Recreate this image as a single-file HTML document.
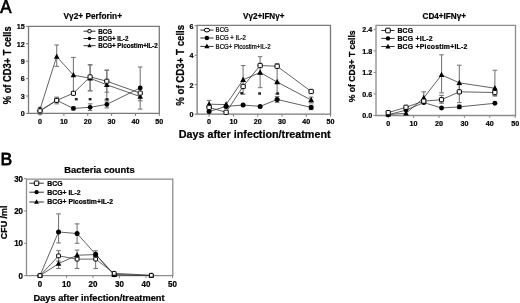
<!DOCTYPE html>
<html><head><meta charset="utf-8"><style>
html,body{margin:0;padding:0;background:#fff;}
text{stroke:#000;stroke-width:0.22px;}
body{width:520px;height:303px;overflow:hidden;font-family:"Liberation Sans", sans-serif;}
svg{display:block;filter:blur(0.3px);}
</style></head><body>
<svg width="520" height="303" viewBox="0 0 520 303" font-family='"Liberation Sans", sans-serif'>
<rect width="520" height="303" fill="#fff"/>
<text id="TA" transform="translate(0.20,12.60) scale(0.93,1)" font-size="18.2" font-weight="normal" text-anchor="start" fill="#000" style="stroke-width:0.7px">A</text>
<text id="TB" transform="translate(0.60,164.50) scale(1.04,1)" font-size="16.8" font-weight="normal" text-anchor="start" fill="#000" style="stroke-width:0.8px">B</text>
<text id="Tt1" transform="translate(63.60,19.20) scale(0.89,1)" font-size="9.3" font-weight="bold" text-anchor="start" fill="#000" >V&#947;2+ Perforin+</text>
<text id="Tt2" transform="translate(243.10,19.30) scale(0.87,1)" font-size="9.3" font-weight="bold" text-anchor="start" fill="#000" >V&#947;2+IFN&#947;+</text>
<text id="Tt3" transform="translate(422.50,18.80) scale(0.95,1)" font-size="8.6" font-weight="bold" text-anchor="start" fill="#000" >CD4+IFN&#947;+</text>
<text id="Tt4" transform="translate(64.30,172.70) scale(1.02,1)" font-size="9.2" font-weight="bold" text-anchor="start" fill="#000" >Bacteria counts</text>
<text id="Ty1" transform="translate(11.20,65.30) rotate(-90) scale(1,1.1)" font-size="9.3" font-weight="bold" text-anchor="middle">% of CD3+ T cells</text>
<text id="Ty2" transform="translate(184.10,65.30) rotate(-90) scale(1,1.12)" font-size="9.7" font-weight="bold" text-anchor="middle">% of CD3+ T cells</text>
<text id="Ty3" transform="translate(354.80,66.30) rotate(-90) scale(1,1.08)" font-size="8.6" font-weight="bold" text-anchor="middle">% of CD3+ T cells</text>
<text id="Ty4" transform="translate(6.90,222.40) rotate(-90) scale(1,1.05)" font-size="8.9" font-weight="bold" text-anchor="middle">CFU /ml</text>
<text id="Tx1" x="178.80" y="137.90" font-size="10.75" font-weight="bold" text-anchor="start" fill="#000" >Days after infection/treatment</text>
<text id="Tx2" x="33.40" y="300.50" font-size="9.3" font-weight="bold" text-anchor="start" fill="#000" >Days after infection/treatment</text>
<path d="M28.50,113.40 V26.30 H159.30 V113.40 Z" fill="none" stroke="#7a7a7a" stroke-width="1.3"/>
<line x1="26.00" y1="113.40" x2="28.50" y2="113.40" stroke="#7a7a7a" stroke-width="1"/>
<text transform="translate(24.80,116.21) scale(0.92,1)" font-size="7.8" font-weight="bold" text-anchor="end" fill="#000" >0</text>
<line x1="26.00" y1="96.00" x2="28.50" y2="96.00" stroke="#7a7a7a" stroke-width="1"/>
<text transform="translate(24.80,98.81) scale(0.92,1)" font-size="7.8" font-weight="bold" text-anchor="end" fill="#000" >3</text>
<line x1="26.00" y1="78.60" x2="28.50" y2="78.60" stroke="#7a7a7a" stroke-width="1"/>
<text transform="translate(24.80,81.41) scale(0.92,1)" font-size="7.8" font-weight="bold" text-anchor="end" fill="#000" >6</text>
<line x1="26.00" y1="61.20" x2="28.50" y2="61.20" stroke="#7a7a7a" stroke-width="1"/>
<text transform="translate(24.80,64.01) scale(0.92,1)" font-size="7.8" font-weight="bold" text-anchor="end" fill="#000" >9</text>
<line x1="26.00" y1="43.80" x2="28.50" y2="43.80" stroke="#7a7a7a" stroke-width="1"/>
<text transform="translate(24.80,46.61) scale(0.92,1)" font-size="7.8" font-weight="bold" text-anchor="end" fill="#000" >12</text>
<line x1="26.00" y1="26.40" x2="28.50" y2="26.40" stroke="#7a7a7a" stroke-width="1"/>
<text transform="translate(24.80,29.21) scale(0.92,1)" font-size="7.8" font-weight="bold" text-anchor="end" fill="#000" >15</text>
<line x1="40.00" y1="113.40" x2="40.00" y2="115.90" stroke="#7a7a7a" stroke-width="1"/>
<text transform="translate(40.00,123.70) scale(0.92,1)" font-size="7.8" font-weight="bold" text-anchor="middle" fill="#000" >0</text>
<line x1="63.86" y1="113.40" x2="63.86" y2="115.90" stroke="#7a7a7a" stroke-width="1"/>
<text transform="translate(63.86,123.70) scale(0.92,1)" font-size="7.8" font-weight="bold" text-anchor="middle" fill="#000" >10</text>
<line x1="87.72" y1="113.40" x2="87.72" y2="115.90" stroke="#7a7a7a" stroke-width="1"/>
<text transform="translate(87.72,123.70) scale(0.92,1)" font-size="7.8" font-weight="bold" text-anchor="middle" fill="#000" >20</text>
<line x1="111.58" y1="113.40" x2="111.58" y2="115.90" stroke="#7a7a7a" stroke-width="1"/>
<text transform="translate(111.58,123.70) scale(0.92,1)" font-size="7.8" font-weight="bold" text-anchor="middle" fill="#000" >30</text>
<line x1="135.44" y1="113.40" x2="135.44" y2="115.90" stroke="#7a7a7a" stroke-width="1"/>
<text transform="translate(135.44,123.70) scale(0.92,1)" font-size="7.8" font-weight="bold" text-anchor="middle" fill="#000" >40</text>
<line x1="159.30" y1="113.40" x2="159.30" y2="115.90" stroke="#7a7a7a" stroke-width="1"/>
<text transform="translate(159.30,123.70) scale(0.92,1)" font-size="7.8" font-weight="bold" text-anchor="middle" fill="#000" >50</text>
<polyline points="40.00,109.34 56.70,56.56 73.40,75.12 90.11,78.31 106.81,84.81 140.21,96.58" fill="none" stroke="#3a3a3a" stroke-width="0.8"/>
<polyline points="40.00,110.79 56.70,100.35 73.40,108.41 90.11,107.31 106.81,104.41 140.21,87.88" fill="none" stroke="#3a3a3a" stroke-width="0.8"/>
<polyline points="40.00,110.79 56.70,100.35 73.40,93.27 90.11,76.86 106.81,81.21 140.21,93.10" fill="none" stroke="#3a3a3a" stroke-width="0.8"/>
<line x1="56.70" y1="56.56" x2="56.70" y2="44.96" stroke="#7a7a7a" stroke-width="1.1"/>
<line x1="54.40" y1="44.96" x2="59.00" y2="44.96" stroke="#7a7a7a" stroke-width="1.1"/>
<line x1="56.70" y1="56.56" x2="56.70" y2="66.42" stroke="#7a7a7a" stroke-width="1.1"/>
<line x1="54.40" y1="66.42" x2="59.00" y2="66.42" stroke="#7a7a7a" stroke-width="1.1"/>
<line x1="73.40" y1="75.12" x2="73.40" y2="57.43" stroke="#7a7a7a" stroke-width="1.1"/>
<line x1="71.10" y1="57.43" x2="75.70" y2="57.43" stroke="#7a7a7a" stroke-width="1.1"/>
<line x1="73.40" y1="75.12" x2="73.40" y2="93.10" stroke="#7a7a7a" stroke-width="1.1"/>
<line x1="71.10" y1="93.10" x2="75.70" y2="93.10" stroke="#7a7a7a" stroke-width="1.1"/>
<line x1="90.11" y1="78.31" x2="90.11" y2="64.97" stroke="#7a7a7a" stroke-width="1.1"/>
<line x1="87.81" y1="64.97" x2="92.41" y2="64.97" stroke="#7a7a7a" stroke-width="1.1"/>
<line x1="90.11" y1="78.31" x2="90.11" y2="90.78" stroke="#7a7a7a" stroke-width="1.1"/>
<line x1="87.81" y1="90.78" x2="92.41" y2="90.78" stroke="#7a7a7a" stroke-width="1.1"/>
<line x1="106.81" y1="84.81" x2="106.81" y2="70.19" stroke="#7a7a7a" stroke-width="1.1"/>
<line x1="104.51" y1="70.19" x2="109.11" y2="70.19" stroke="#7a7a7a" stroke-width="1.1"/>
<line x1="106.81" y1="84.81" x2="106.81" y2="99.31" stroke="#7a7a7a" stroke-width="1.1"/>
<line x1="104.51" y1="99.31" x2="109.11" y2="99.31" stroke="#7a7a7a" stroke-width="1.1"/>
<line x1="140.21" y1="96.58" x2="140.21" y2="109.11" stroke="#7a7a7a" stroke-width="1.1"/>
<line x1="137.91" y1="109.11" x2="142.51" y2="109.11" stroke="#7a7a7a" stroke-width="1.1"/>
<line x1="73.40" y1="108.41" x2="73.40" y2="106.96" stroke="#7a7a7a" stroke-width="1.1"/>
<line x1="71.10" y1="106.96" x2="75.70" y2="106.96" stroke="#7a7a7a" stroke-width="1.1"/>
<line x1="73.40" y1="108.41" x2="73.40" y2="109.86" stroke="#7a7a7a" stroke-width="1.1"/>
<line x1="71.10" y1="109.86" x2="75.70" y2="109.86" stroke="#7a7a7a" stroke-width="1.1"/>
<line x1="90.11" y1="107.31" x2="90.11" y2="103.83" stroke="#7a7a7a" stroke-width="1.1"/>
<line x1="87.81" y1="103.83" x2="92.41" y2="103.83" stroke="#7a7a7a" stroke-width="1.1"/>
<line x1="90.11" y1="107.31" x2="90.11" y2="110.50" stroke="#7a7a7a" stroke-width="1.1"/>
<line x1="87.81" y1="110.50" x2="92.41" y2="110.50" stroke="#7a7a7a" stroke-width="1.1"/>
<line x1="106.81" y1="104.41" x2="106.81" y2="100.93" stroke="#7a7a7a" stroke-width="1.1"/>
<line x1="104.51" y1="100.93" x2="109.11" y2="100.93" stroke="#7a7a7a" stroke-width="1.1"/>
<line x1="106.81" y1="104.41" x2="106.81" y2="107.89" stroke="#7a7a7a" stroke-width="1.1"/>
<line x1="104.51" y1="107.89" x2="109.11" y2="107.89" stroke="#7a7a7a" stroke-width="1.1"/>
<line x1="140.21" y1="87.88" x2="140.21" y2="67.00" stroke="#7a7a7a" stroke-width="1.1"/>
<line x1="137.91" y1="67.00" x2="142.51" y2="67.00" stroke="#7a7a7a" stroke-width="1.1"/>
<line x1="140.21" y1="87.88" x2="140.21" y2="100.81" stroke="#7a7a7a" stroke-width="1.1"/>
<line x1="137.91" y1="100.81" x2="142.51" y2="100.81" stroke="#7a7a7a" stroke-width="1.1"/>
<line x1="40.00" y1="110.79" x2="40.00" y2="107.31" stroke="#7a7a7a" stroke-width="1.1"/>
<line x1="37.70" y1="107.31" x2="42.30" y2="107.31" stroke="#7a7a7a" stroke-width="1.1"/>
<line x1="40.00" y1="110.79" x2="40.00" y2="114.27" stroke="#7a7a7a" stroke-width="1.1"/>
<line x1="37.70" y1="114.27" x2="42.30" y2="114.27" stroke="#7a7a7a" stroke-width="1.1"/>
<line x1="56.70" y1="100.35" x2="56.70" y2="97.16" stroke="#7a7a7a" stroke-width="1.1"/>
<line x1="54.40" y1="97.16" x2="59.00" y2="97.16" stroke="#7a7a7a" stroke-width="1.1"/>
<line x1="56.70" y1="100.35" x2="56.70" y2="103.83" stroke="#7a7a7a" stroke-width="1.1"/>
<line x1="54.40" y1="103.83" x2="59.00" y2="103.83" stroke="#7a7a7a" stroke-width="1.1"/>
<line x1="90.11" y1="76.86" x2="90.11" y2="64.68" stroke="#7a7a7a" stroke-width="1.1"/>
<line x1="87.81" y1="64.68" x2="92.41" y2="64.68" stroke="#7a7a7a" stroke-width="1.1"/>
<line x1="90.11" y1="76.86" x2="90.11" y2="90.78" stroke="#7a7a7a" stroke-width="1.1"/>
<line x1="87.81" y1="90.78" x2="92.41" y2="90.78" stroke="#7a7a7a" stroke-width="1.1"/>
<line x1="106.81" y1="81.21" x2="106.81" y2="70.19" stroke="#7a7a7a" stroke-width="1.1"/>
<line x1="104.51" y1="70.19" x2="109.11" y2="70.19" stroke="#7a7a7a" stroke-width="1.1"/>
<line x1="106.81" y1="81.21" x2="106.81" y2="92.23" stroke="#7a7a7a" stroke-width="1.1"/>
<line x1="104.51" y1="92.23" x2="109.11" y2="92.23" stroke="#7a7a7a" stroke-width="1.1"/>
<polygon points="40.00,106.22 42.76,111.46 37.24,111.46" fill="#000"/>
<polygon points="56.70,53.44 59.46,58.68 53.94,58.68" fill="#000"/>
<polygon points="73.40,72.00 76.16,77.24 70.64,77.24" fill="#000"/>
<polygon points="90.11,75.19 92.87,80.43 87.35,80.43" fill="#000"/>
<polygon points="106.81,81.68 109.57,86.92 104.05,86.92" fill="#000"/>
<polygon points="140.21,93.46 142.97,98.70 137.45,98.70" fill="#000"/>
<circle cx="40.00" cy="110.79" r="2.40" fill="#000"/>
<circle cx="56.70" cy="100.35" r="2.40" fill="#000"/>
<circle cx="73.40" cy="108.41" r="2.40" fill="#000"/>
<circle cx="90.11" cy="107.31" r="2.40" fill="#000"/>
<circle cx="106.81" cy="104.41" r="2.40" fill="#000"/>
<circle cx="140.21" cy="87.88" r="2.40" fill="#000"/>
<rect x="37.94" y="108.73" width="4.13" height="4.13" rx="0.5" fill="#fff" stroke="#000" stroke-width="1"/>
<rect x="54.64" y="98.29" width="4.13" height="4.13" rx="0.5" fill="#fff" stroke="#000" stroke-width="1"/>
<rect x="71.34" y="91.21" width="4.13" height="4.13" rx="0.5" fill="#fff" stroke="#000" stroke-width="1"/>
<rect x="88.04" y="74.80" width="4.13" height="4.13" rx="0.5" fill="#fff" stroke="#000" stroke-width="1"/>
<rect x="104.74" y="79.15" width="4.13" height="4.13" rx="0.5" fill="#fff" stroke="#000" stroke-width="1"/>
<rect x="138.15" y="91.04" width="4.13" height="4.13" rx="0.5" fill="#fff" stroke="#000" stroke-width="1"/>
<rect x="74.90" y="98.00" width="2.8" height="2.4" fill="#222"/>
<rect x="88.70" y="98.00" width="2.8" height="2.4" fill="#222"/>
<rect x="105.60" y="98.10" width="2.8" height="2.4" fill="#222"/>
<path d="M197.10,114.20 V25.40 H330.50 V114.20 Z" fill="none" stroke="#7a7a7a" stroke-width="1.3"/>
<line x1="194.60" y1="114.20" x2="197.10" y2="114.20" stroke="#7a7a7a" stroke-width="1"/>
<text transform="translate(193.60,117.01) scale(0.92,1)" font-size="7.8" font-weight="bold" text-anchor="end" fill="#000" >0</text>
<line x1="194.60" y1="84.70" x2="197.10" y2="84.70" stroke="#7a7a7a" stroke-width="1"/>
<text transform="translate(193.60,87.51) scale(0.92,1)" font-size="7.8" font-weight="bold" text-anchor="end" fill="#000" >2</text>
<line x1="194.60" y1="55.20" x2="197.10" y2="55.20" stroke="#7a7a7a" stroke-width="1"/>
<text transform="translate(193.60,58.01) scale(0.92,1)" font-size="7.8" font-weight="bold" text-anchor="end" fill="#000" >4</text>
<line x1="194.60" y1="25.70" x2="197.10" y2="25.70" stroke="#7a7a7a" stroke-width="1"/>
<text transform="translate(193.60,28.51) scale(0.92,1)" font-size="7.8" font-weight="bold" text-anchor="end" fill="#000" >6</text>
<line x1="209.10" y1="114.20" x2="209.10" y2="116.70" stroke="#7a7a7a" stroke-width="1"/>
<text transform="translate(209.10,123.90) scale(0.92,1)" font-size="7.8" font-weight="bold" text-anchor="middle" fill="#000" >0</text>
<line x1="233.40" y1="114.20" x2="233.40" y2="116.70" stroke="#7a7a7a" stroke-width="1"/>
<text transform="translate(233.40,123.90) scale(0.92,1)" font-size="7.8" font-weight="bold" text-anchor="middle" fill="#000" >10</text>
<line x1="257.70" y1="114.20" x2="257.70" y2="116.70" stroke="#7a7a7a" stroke-width="1"/>
<text transform="translate(257.70,123.90) scale(0.92,1)" font-size="7.8" font-weight="bold" text-anchor="middle" fill="#000" >20</text>
<line x1="282.00" y1="114.20" x2="282.00" y2="116.70" stroke="#7a7a7a" stroke-width="1"/>
<text transform="translate(282.00,123.90) scale(0.92,1)" font-size="7.8" font-weight="bold" text-anchor="middle" fill="#000" >30</text>
<line x1="306.30" y1="114.20" x2="306.30" y2="116.70" stroke="#7a7a7a" stroke-width="1"/>
<text transform="translate(306.30,123.90) scale(0.92,1)" font-size="7.8" font-weight="bold" text-anchor="middle" fill="#000" >40</text>
<line x1="330.60" y1="114.20" x2="330.60" y2="116.70" stroke="#7a7a7a" stroke-width="1"/>
<text transform="translate(330.60,123.90) scale(0.92,1)" font-size="7.8" font-weight="bold" text-anchor="middle" fill="#000" >50</text>
<polyline points="209.10,104.17 226.11,104.61 243.12,79.83 260.13,72.46 277.14,82.05 311.16,100.04" fill="none" stroke="#3a3a3a" stroke-width="0.8"/>
<polyline points="209.10,111.55 226.11,106.38 243.12,105.06 260.13,106.38 277.14,99.45 311.16,107.42" fill="none" stroke="#3a3a3a" stroke-width="0.8"/>
<polyline points="209.10,107.42 226.11,112.28 243.12,86.47 260.13,65.53 277.14,66.26 311.16,91.48" fill="none" stroke="#3a3a3a" stroke-width="0.8"/>
<line x1="209.10" y1="104.17" x2="209.10" y2="100.48" stroke="#7a7a7a" stroke-width="1.1"/>
<line x1="206.80" y1="100.48" x2="211.40" y2="100.48" stroke="#7a7a7a" stroke-width="1.1"/>
<line x1="209.10" y1="104.17" x2="209.10" y2="107.86" stroke="#7a7a7a" stroke-width="1.1"/>
<line x1="206.80" y1="107.86" x2="211.40" y2="107.86" stroke="#7a7a7a" stroke-width="1.1"/>
<line x1="243.12" y1="79.83" x2="243.12" y2="65.53" stroke="#7a7a7a" stroke-width="1.1"/>
<line x1="240.82" y1="65.53" x2="245.42" y2="65.53" stroke="#7a7a7a" stroke-width="1.1"/>
<line x1="243.12" y1="79.83" x2="243.12" y2="94.14" stroke="#7a7a7a" stroke-width="1.1"/>
<line x1="240.82" y1="94.14" x2="245.42" y2="94.14" stroke="#7a7a7a" stroke-width="1.1"/>
<line x1="260.13" y1="72.46" x2="260.13" y2="87.65" stroke="#7a7a7a" stroke-width="1.1"/>
<line x1="257.83" y1="87.65" x2="262.43" y2="87.65" stroke="#7a7a7a" stroke-width="1.1"/>
<line x1="277.14" y1="82.05" x2="277.14" y2="93.99" stroke="#7a7a7a" stroke-width="1.1"/>
<line x1="274.84" y1="93.99" x2="279.44" y2="93.99" stroke="#7a7a7a" stroke-width="1.1"/>
<line x1="311.16" y1="100.04" x2="311.16" y2="97.09" stroke="#7a7a7a" stroke-width="1.1"/>
<line x1="308.86" y1="97.09" x2="313.46" y2="97.09" stroke="#7a7a7a" stroke-width="1.1"/>
<line x1="311.16" y1="100.04" x2="311.16" y2="102.99" stroke="#7a7a7a" stroke-width="1.1"/>
<line x1="308.86" y1="102.99" x2="313.46" y2="102.99" stroke="#7a7a7a" stroke-width="1.1"/>
<line x1="277.14" y1="99.45" x2="277.14" y2="96.50" stroke="#7a7a7a" stroke-width="1.1"/>
<line x1="274.84" y1="96.50" x2="279.44" y2="96.50" stroke="#7a7a7a" stroke-width="1.1"/>
<line x1="277.14" y1="99.45" x2="277.14" y2="102.40" stroke="#7a7a7a" stroke-width="1.1"/>
<line x1="274.84" y1="102.40" x2="279.44" y2="102.40" stroke="#7a7a7a" stroke-width="1.1"/>
<line x1="311.16" y1="107.42" x2="311.16" y2="105.20" stroke="#7a7a7a" stroke-width="1.1"/>
<line x1="308.86" y1="105.20" x2="313.46" y2="105.20" stroke="#7a7a7a" stroke-width="1.1"/>
<line x1="311.16" y1="107.42" x2="311.16" y2="109.63" stroke="#7a7a7a" stroke-width="1.1"/>
<line x1="308.86" y1="109.63" x2="313.46" y2="109.63" stroke="#7a7a7a" stroke-width="1.1"/>
<line x1="260.13" y1="65.53" x2="260.13" y2="56.68" stroke="#7a7a7a" stroke-width="1.1"/>
<line x1="257.83" y1="56.68" x2="262.43" y2="56.68" stroke="#7a7a7a" stroke-width="1.1"/>
<line x1="260.13" y1="65.53" x2="260.13" y2="74.38" stroke="#7a7a7a" stroke-width="1.1"/>
<line x1="257.83" y1="74.38" x2="262.43" y2="74.38" stroke="#7a7a7a" stroke-width="1.1"/>
<line x1="277.14" y1="66.26" x2="277.14" y2="63.76" stroke="#7a7a7a" stroke-width="1.1"/>
<line x1="274.84" y1="63.76" x2="279.44" y2="63.76" stroke="#7a7a7a" stroke-width="1.1"/>
<line x1="277.14" y1="66.26" x2="277.14" y2="82.05" stroke="#7a7a7a" stroke-width="1.1"/>
<line x1="274.84" y1="82.05" x2="279.44" y2="82.05" stroke="#7a7a7a" stroke-width="1.1"/>
<polygon points="209.10,100.92 211.97,106.38 206.22,106.38" fill="#000"/>
<polygon points="226.11,101.36 228.98,106.82 223.23,106.82" fill="#000"/>
<polygon points="243.12,76.58 246.00,82.04 240.25,82.04" fill="#000"/>
<polygon points="260.13,69.20 263.00,74.66 257.25,74.66" fill="#000"/>
<polygon points="277.14,78.79 280.01,84.25 274.26,84.25" fill="#000"/>
<polygon points="311.16,96.79 314.03,102.25 308.28,102.25" fill="#000"/>
<circle cx="209.10" cy="111.55" r="2.50" fill="#000"/>
<circle cx="226.11" cy="106.38" r="2.50" fill="#000"/>
<circle cx="243.12" cy="105.06" r="2.50" fill="#000"/>
<circle cx="260.13" cy="106.38" r="2.50" fill="#000"/>
<circle cx="277.14" cy="99.45" r="2.50" fill="#000"/>
<circle cx="311.16" cy="107.42" r="2.50" fill="#000"/>
<rect x="206.95" y="105.27" width="4.30" height="4.30" rx="0.5" fill="#fff" stroke="#000" stroke-width="1"/>
<rect x="223.96" y="110.13" width="4.30" height="4.30" rx="0.5" fill="#fff" stroke="#000" stroke-width="1"/>
<rect x="240.97" y="84.32" width="4.30" height="4.30" rx="0.5" fill="#fff" stroke="#000" stroke-width="1"/>
<rect x="257.98" y="63.38" width="4.30" height="4.30" rx="0.5" fill="#fff" stroke="#000" stroke-width="1"/>
<rect x="274.99" y="64.11" width="4.30" height="4.30" rx="0.5" fill="#fff" stroke="#000" stroke-width="1"/>
<rect x="309.01" y="89.33" width="4.30" height="4.30" rx="0.5" fill="#fff" stroke="#000" stroke-width="1"/>
<rect x="240.30" y="92.00" width="2.8" height="2.4" fill="#222"/>
<rect x="258.20" y="92.30" width="2.8" height="2.4" fill="#222"/>
<rect x="276.20" y="92.30" width="2.8" height="2.4" fill="#222"/>
<path d="M376.00,115.50 V25.30 H515.50 V115.50 Z" fill="none" stroke="#8c8c8c" stroke-width="1.3"/>
<line x1="373.50" y1="115.50" x2="376.00" y2="115.50" stroke="#8c8c8c" stroke-width="1"/>
<text transform="translate(372.20,118.31) scale(0.92,1)" font-size="7.8" font-weight="bold" text-anchor="end" fill="#000" >0.0</text>
<line x1="373.50" y1="93.96" x2="376.00" y2="93.96" stroke="#8c8c8c" stroke-width="1"/>
<text transform="translate(372.20,96.77) scale(0.92,1)" font-size="7.8" font-weight="bold" text-anchor="end" fill="#000" >0.6</text>
<line x1="373.50" y1="72.42" x2="376.00" y2="72.42" stroke="#8c8c8c" stroke-width="1"/>
<text transform="translate(372.20,75.23) scale(0.92,1)" font-size="7.8" font-weight="bold" text-anchor="end" fill="#000" >1.2</text>
<line x1="373.50" y1="50.88" x2="376.00" y2="50.88" stroke="#8c8c8c" stroke-width="1"/>
<text transform="translate(372.20,53.69) scale(0.92,1)" font-size="7.8" font-weight="bold" text-anchor="end" fill="#000" >1.8</text>
<line x1="373.50" y1="29.34" x2="376.00" y2="29.34" stroke="#8c8c8c" stroke-width="1"/>
<text transform="translate(372.20,32.15) scale(0.92,1)" font-size="7.8" font-weight="bold" text-anchor="end" fill="#000" >2.4</text>
<line x1="388.20" y1="115.50" x2="388.20" y2="118.00" stroke="#8c8c8c" stroke-width="1"/>
<text transform="translate(388.20,126.00) scale(0.92,1)" font-size="7.8" font-weight="bold" text-anchor="middle" fill="#000" >0</text>
<line x1="413.60" y1="115.50" x2="413.60" y2="118.00" stroke="#8c8c8c" stroke-width="1"/>
<text transform="translate(413.60,126.00) scale(0.92,1)" font-size="7.8" font-weight="bold" text-anchor="middle" fill="#000" >10</text>
<line x1="439.00" y1="115.50" x2="439.00" y2="118.00" stroke="#8c8c8c" stroke-width="1"/>
<text transform="translate(439.00,126.00) scale(0.92,1)" font-size="7.8" font-weight="bold" text-anchor="middle" fill="#000" >20</text>
<line x1="464.40" y1="115.50" x2="464.40" y2="118.00" stroke="#8c8c8c" stroke-width="1"/>
<text transform="translate(464.40,126.00) scale(0.92,1)" font-size="7.8" font-weight="bold" text-anchor="middle" fill="#000" >30</text>
<line x1="489.80" y1="115.50" x2="489.80" y2="118.00" stroke="#8c8c8c" stroke-width="1"/>
<text transform="translate(489.80,126.00) scale(0.92,1)" font-size="7.8" font-weight="bold" text-anchor="middle" fill="#000" >40</text>
<line x1="515.20" y1="115.50" x2="515.20" y2="118.00" stroke="#8c8c8c" stroke-width="1"/>
<text transform="translate(515.20,126.00) scale(0.92,1)" font-size="7.8" font-weight="bold" text-anchor="middle" fill="#000" >50</text>
<polyline points="388.20,114.42 405.98,113.35 423.76,97.91 441.54,74.93 459.32,82.83 494.88,88.22" fill="none" stroke="#3a3a3a" stroke-width="0.8"/>
<polyline points="388.20,114.78 405.98,110.11 423.76,102.58 441.54,107.96 459.32,106.88 494.88,103.29" fill="none" stroke="#3a3a3a" stroke-width="0.8"/>
<polyline points="388.20,112.63 405.98,107.24 423.76,101.14 441.54,99.70 459.32,91.81 494.88,92.52" fill="none" stroke="#3a3a3a" stroke-width="0.8"/>
<line x1="423.76" y1="97.91" x2="423.76" y2="91.81" stroke="#7a7a7a" stroke-width="1.1"/>
<line x1="421.46" y1="91.81" x2="426.06" y2="91.81" stroke="#7a7a7a" stroke-width="1.1"/>
<line x1="423.76" y1="97.91" x2="423.76" y2="104.01" stroke="#7a7a7a" stroke-width="1.1"/>
<line x1="421.46" y1="104.01" x2="426.06" y2="104.01" stroke="#7a7a7a" stroke-width="1.1"/>
<line x1="441.54" y1="74.93" x2="441.54" y2="54.83" stroke="#7a7a7a" stroke-width="1.1"/>
<line x1="439.24" y1="54.83" x2="443.84" y2="54.83" stroke="#7a7a7a" stroke-width="1.1"/>
<line x1="441.54" y1="74.93" x2="441.54" y2="92.88" stroke="#7a7a7a" stroke-width="1.1"/>
<line x1="439.24" y1="92.88" x2="443.84" y2="92.88" stroke="#7a7a7a" stroke-width="1.1"/>
<line x1="459.32" y1="82.83" x2="459.32" y2="65.24" stroke="#7a7a7a" stroke-width="1.1"/>
<line x1="457.02" y1="65.24" x2="461.62" y2="65.24" stroke="#7a7a7a" stroke-width="1.1"/>
<line x1="459.32" y1="82.83" x2="459.32" y2="93.60" stroke="#7a7a7a" stroke-width="1.1"/>
<line x1="457.02" y1="93.60" x2="461.62" y2="93.60" stroke="#7a7a7a" stroke-width="1.1"/>
<line x1="494.88" y1="88.22" x2="494.88" y2="70.27" stroke="#7a7a7a" stroke-width="1.1"/>
<line x1="492.58" y1="70.27" x2="497.18" y2="70.27" stroke="#7a7a7a" stroke-width="1.1"/>
<line x1="494.88" y1="88.22" x2="494.88" y2="95.40" stroke="#7a7a7a" stroke-width="1.1"/>
<line x1="492.58" y1="95.40" x2="497.18" y2="95.40" stroke="#7a7a7a" stroke-width="1.1"/>
<line x1="459.32" y1="106.88" x2="459.32" y2="105.09" stroke="#7a7a7a" stroke-width="1.1"/>
<line x1="457.02" y1="105.09" x2="461.62" y2="105.09" stroke="#7a7a7a" stroke-width="1.1"/>
<line x1="459.32" y1="106.88" x2="459.32" y2="108.68" stroke="#7a7a7a" stroke-width="1.1"/>
<line x1="457.02" y1="108.68" x2="461.62" y2="108.68" stroke="#7a7a7a" stroke-width="1.1"/>
<line x1="441.54" y1="99.70" x2="441.54" y2="95.40" stroke="#7a7a7a" stroke-width="1.1"/>
<line x1="439.24" y1="95.40" x2="443.84" y2="95.40" stroke="#7a7a7a" stroke-width="1.1"/>
<line x1="441.54" y1="99.70" x2="441.54" y2="103.29" stroke="#7a7a7a" stroke-width="1.1"/>
<line x1="439.24" y1="103.29" x2="443.84" y2="103.29" stroke="#7a7a7a" stroke-width="1.1"/>
<line x1="459.32" y1="91.81" x2="459.32" y2="84.63" stroke="#7a7a7a" stroke-width="1.1"/>
<line x1="457.02" y1="84.63" x2="461.62" y2="84.63" stroke="#7a7a7a" stroke-width="1.1"/>
<line x1="459.32" y1="91.81" x2="459.32" y2="102.58" stroke="#7a7a7a" stroke-width="1.1"/>
<line x1="457.02" y1="102.58" x2="461.62" y2="102.58" stroke="#7a7a7a" stroke-width="1.1"/>
<line x1="494.88" y1="92.52" x2="494.88" y2="88.93" stroke="#7a7a7a" stroke-width="1.1"/>
<line x1="492.58" y1="88.93" x2="497.18" y2="88.93" stroke="#7a7a7a" stroke-width="1.1"/>
<line x1="494.88" y1="92.52" x2="494.88" y2="96.11" stroke="#7a7a7a" stroke-width="1.1"/>
<line x1="492.58" y1="96.11" x2="497.18" y2="96.11" stroke="#7a7a7a" stroke-width="1.1"/>
<polygon points="388.20,111.23 391.02,116.58 385.38,116.58" fill="#000"/>
<polygon points="405.98,110.16 408.80,115.51 403.16,115.51" fill="#000"/>
<polygon points="423.76,94.72 426.58,100.07 420.94,100.07" fill="#000"/>
<polygon points="441.54,71.74 444.36,77.09 438.72,77.09" fill="#000"/>
<polygon points="459.32,79.64 462.14,84.99 456.50,84.99" fill="#000"/>
<polygon points="494.88,85.03 497.70,90.38 492.06,90.38" fill="#000"/>
<circle cx="388.20" cy="114.78" r="2.45" fill="#000"/>
<circle cx="405.98" cy="110.11" r="2.45" fill="#000"/>
<circle cx="423.76" cy="102.58" r="2.45" fill="#000"/>
<circle cx="441.54" cy="107.96" r="2.45" fill="#000"/>
<circle cx="459.32" cy="106.88" r="2.45" fill="#000"/>
<circle cx="494.88" cy="103.29" r="2.45" fill="#000"/>
<rect x="386.09" y="110.52" width="4.21" height="4.21" rx="0.5" fill="#fff" stroke="#000" stroke-width="1"/>
<rect x="403.87" y="105.14" width="4.21" height="4.21" rx="0.5" fill="#fff" stroke="#000" stroke-width="1"/>
<rect x="421.65" y="99.03" width="4.21" height="4.21" rx="0.5" fill="#fff" stroke="#000" stroke-width="1"/>
<rect x="439.43" y="97.60" width="4.21" height="4.21" rx="0.5" fill="#fff" stroke="#000" stroke-width="1"/>
<rect x="457.21" y="89.70" width="4.21" height="4.21" rx="0.5" fill="#fff" stroke="#000" stroke-width="1"/>
<rect x="492.77" y="90.42" width="4.21" height="4.21" rx="0.5" fill="#fff" stroke="#000" stroke-width="1"/>
<path d="M26.50,275.60 V179.20 H172.80 V275.60 Z" fill="none" stroke="#8c8c8c" stroke-width="1.3"/>
<line x1="24.00" y1="275.60" x2="26.50" y2="275.60" stroke="#8c8c8c" stroke-width="1"/>
<text transform="translate(23.00,278.62) scale(0.95,1)" font-size="8.4" font-weight="bold" text-anchor="end" fill="#000" >0</text>
<line x1="24.00" y1="243.27" x2="26.50" y2="243.27" stroke="#8c8c8c" stroke-width="1"/>
<text transform="translate(23.00,246.29) scale(0.95,1)" font-size="8.4" font-weight="bold" text-anchor="end" fill="#000" >10</text>
<line x1="24.00" y1="210.94" x2="26.50" y2="210.94" stroke="#8c8c8c" stroke-width="1"/>
<text transform="translate(23.00,213.96) scale(0.95,1)" font-size="8.4" font-weight="bold" text-anchor="end" fill="#000" >20</text>
<line x1="24.00" y1="178.61" x2="26.50" y2="178.61" stroke="#8c8c8c" stroke-width="1"/>
<text transform="translate(23.00,181.63) scale(0.95,1)" font-size="8.4" font-weight="bold" text-anchor="end" fill="#000" >30</text>
<line x1="40.00" y1="275.60" x2="40.00" y2="278.10" stroke="#8c8c8c" stroke-width="1"/>
<text transform="translate(40.00,286.80) scale(0.95,1)" font-size="8.4" font-weight="bold" text-anchor="middle" fill="#000" >0</text>
<line x1="66.50" y1="275.60" x2="66.50" y2="278.10" stroke="#8c8c8c" stroke-width="1"/>
<text transform="translate(66.50,286.80) scale(0.95,1)" font-size="8.4" font-weight="bold" text-anchor="middle" fill="#000" >10</text>
<line x1="93.00" y1="275.60" x2="93.00" y2="278.10" stroke="#8c8c8c" stroke-width="1"/>
<text transform="translate(93.00,286.80) scale(0.95,1)" font-size="8.4" font-weight="bold" text-anchor="middle" fill="#000" >20</text>
<line x1="119.50" y1="275.60" x2="119.50" y2="278.10" stroke="#8c8c8c" stroke-width="1"/>
<text transform="translate(119.50,286.80) scale(0.95,1)" font-size="8.4" font-weight="bold" text-anchor="middle" fill="#000" >30</text>
<line x1="146.00" y1="275.60" x2="146.00" y2="278.10" stroke="#8c8c8c" stroke-width="1"/>
<text transform="translate(146.00,286.80) scale(0.95,1)" font-size="8.4" font-weight="bold" text-anchor="middle" fill="#000" >40</text>
<line x1="172.50" y1="275.60" x2="172.50" y2="278.10" stroke="#8c8c8c" stroke-width="1"/>
<text transform="translate(172.50,286.80) scale(0.95,1)" font-size="8.4" font-weight="bold" text-anchor="middle" fill="#000" >50</text>
<polyline points="40.00,275.60 58.55,231.95 77.10,233.57 95.65,254.26 114.20,274.63 151.30,275.60" fill="none" stroke="#3a3a3a" stroke-width="0.8"/>
<polyline points="40.00,275.60 58.55,263.64 77.10,255.23 95.65,254.59 114.20,274.95 151.30,275.60" fill="none" stroke="#3a3a3a" stroke-width="0.8"/>
<polyline points="40.00,275.60 58.55,255.88 77.10,259.11 95.65,259.11 114.20,273.34 151.30,275.28" fill="none" stroke="#3a3a3a" stroke-width="0.8"/>
<line x1="58.55" y1="231.95" x2="58.55" y2="213.85" stroke="#7a7a7a" stroke-width="1.1"/>
<line x1="56.25" y1="213.85" x2="60.85" y2="213.85" stroke="#7a7a7a" stroke-width="1.1"/>
<line x1="58.55" y1="231.95" x2="58.55" y2="242.95" stroke="#7a7a7a" stroke-width="1.1"/>
<line x1="56.25" y1="242.95" x2="60.85" y2="242.95" stroke="#7a7a7a" stroke-width="1.1"/>
<line x1="77.10" y1="233.57" x2="77.10" y2="223.87" stroke="#7a7a7a" stroke-width="1.1"/>
<line x1="74.80" y1="223.87" x2="79.40" y2="223.87" stroke="#7a7a7a" stroke-width="1.1"/>
<line x1="77.10" y1="233.57" x2="77.10" y2="243.27" stroke="#7a7a7a" stroke-width="1.1"/>
<line x1="74.80" y1="243.27" x2="79.40" y2="243.27" stroke="#7a7a7a" stroke-width="1.1"/>
<line x1="58.55" y1="263.64" x2="58.55" y2="268.49" stroke="#7a7a7a" stroke-width="1.1"/>
<line x1="56.25" y1="268.49" x2="60.85" y2="268.49" stroke="#7a7a7a" stroke-width="1.1"/>
<line x1="77.10" y1="255.23" x2="77.10" y2="250.06" stroke="#7a7a7a" stroke-width="1.1"/>
<line x1="74.80" y1="250.06" x2="79.40" y2="250.06" stroke="#7a7a7a" stroke-width="1.1"/>
<line x1="77.10" y1="255.23" x2="77.10" y2="268.49" stroke="#7a7a7a" stroke-width="1.1"/>
<line x1="74.80" y1="268.49" x2="79.40" y2="268.49" stroke="#7a7a7a" stroke-width="1.1"/>
<line x1="95.65" y1="254.59" x2="95.65" y2="250.71" stroke="#7a7a7a" stroke-width="1.1"/>
<line x1="93.35" y1="250.71" x2="97.95" y2="250.71" stroke="#7a7a7a" stroke-width="1.1"/>
<line x1="95.65" y1="254.59" x2="95.65" y2="268.49" stroke="#7a7a7a" stroke-width="1.1"/>
<line x1="93.35" y1="268.49" x2="97.95" y2="268.49" stroke="#7a7a7a" stroke-width="1.1"/>
<line x1="58.55" y1="255.88" x2="58.55" y2="250.71" stroke="#7a7a7a" stroke-width="1.1"/>
<line x1="56.25" y1="250.71" x2="60.85" y2="250.71" stroke="#7a7a7a" stroke-width="1.1"/>
<line x1="58.55" y1="255.88" x2="58.55" y2="261.05" stroke="#7a7a7a" stroke-width="1.1"/>
<line x1="56.25" y1="261.05" x2="60.85" y2="261.05" stroke="#7a7a7a" stroke-width="1.1"/>
<circle cx="40.00" cy="275.60" r="2.50" fill="#000"/>
<circle cx="58.55" cy="231.95" r="2.50" fill="#000"/>
<circle cx="77.10" cy="233.57" r="2.50" fill="#000"/>
<circle cx="95.65" cy="254.26" r="2.50" fill="#000"/>
<circle cx="114.20" cy="274.63" r="2.50" fill="#000"/>
<circle cx="151.30" cy="275.60" r="2.50" fill="#000"/>
<polygon points="40.00,272.41 42.82,277.76 37.18,277.76" fill="#000"/>
<polygon points="58.55,260.45 61.37,265.80 55.73,265.80" fill="#000"/>
<polygon points="77.10,252.04 79.92,257.39 74.28,257.39" fill="#000"/>
<polygon points="95.65,251.40 98.47,256.75 92.83,256.75" fill="#000"/>
<polygon points="114.20,271.76 117.02,277.11 111.38,277.11" fill="#000"/>
<polygon points="151.30,272.41 154.12,277.76 148.48,277.76" fill="#000"/>
<rect x="38.11" y="273.71" width="3.78" height="3.78" rx="0.5" fill="#fff" stroke="#000" stroke-width="1"/>
<rect x="56.66" y="253.99" width="3.78" height="3.78" rx="0.5" fill="#fff" stroke="#000" stroke-width="1"/>
<rect x="75.21" y="257.22" width="3.78" height="3.78" rx="0.5" fill="#fff" stroke="#000" stroke-width="1"/>
<rect x="93.76" y="257.22" width="3.78" height="3.78" rx="0.5" fill="#fff" stroke="#000" stroke-width="1"/>
<rect x="112.31" y="271.44" width="3.78" height="3.78" rx="0.5" fill="#fff" stroke="#000" stroke-width="1"/>
<rect x="149.41" y="273.38" width="3.78" height="3.78" rx="0.5" fill="#fff" stroke="#000" stroke-width="1"/>
<line x1="83.50" y1="31.20" x2="95.50" y2="31.20" stroke="#333" stroke-width="1.0"/>
<rect x="87.95" y="29.65" width="3.10" height="3.10" rx="0.5" fill="#fff" stroke="#000" stroke-width="1"/>
<text id="TL98_31" transform="translate(98.20,33.50) scale(0.97,1)" font-size="6.4" font-weight="bold" text-anchor="start" fill="#000" >BCG</text>
<line x1="83.50" y1="38.50" x2="95.50" y2="38.50" stroke="#333" stroke-width="1.0"/>
<circle cx="89.50" cy="38.50" r="1.80" fill="#000"/>
<text id="TL98_38" transform="translate(98.20,40.80) scale(0.97,1)" font-size="6.4" font-weight="bold" text-anchor="start" fill="#000" >BCG+ IL-2</text>
<line x1="83.50" y1="45.70" x2="95.50" y2="45.70" stroke="#333" stroke-width="1.0"/>
<polygon points="89.50,43.36 91.57,47.29 87.43,47.29" fill="#000"/>
<text id="TL98_45" transform="translate(98.20,48.00) scale(0.97,1)" font-size="6.4" font-weight="bold" text-anchor="start" fill="#000" >BCG+ Picostim+IL-2</text>
<line x1="200.30" y1="30.10" x2="213.50" y2="30.10" stroke="#333" stroke-width="1.0"/>
<ellipse cx="206.90" cy="30.10" rx="2.73" ry="1.85" fill="#fff" stroke="#000" stroke-width="1"/>
<text id="TL215_30" transform="translate(215.60,32.40) scale(0.945,1)" font-size="6.4" font-weight="normal" text-anchor="start" fill="#000" >BCG</text>
<line x1="200.30" y1="38.00" x2="213.50" y2="38.00" stroke="#333" stroke-width="1.0"/>
<circle cx="206.90" cy="38.00" r="2.20" fill="#000"/>
<text id="TL215_38" transform="translate(215.60,40.30) scale(0.945,1)" font-size="6.4" font-weight="normal" text-anchor="start" fill="#000" >BCG + IL-2</text>
<line x1="200.30" y1="46.40" x2="213.50" y2="46.40" stroke="#333" stroke-width="1.0"/>
<polygon points="206.90,43.54 209.43,48.34 204.37,48.34" fill="#000"/>
<text id="TL215_46" transform="translate(215.60,48.70) scale(0.945,1)" font-size="6.4" font-weight="normal" text-anchor="start" fill="#000" >BCG+ Picostim+IL-2</text>
<line x1="381.30" y1="30.50" x2="394.60" y2="30.50" stroke="#333" stroke-width="1.0"/>
<rect x="385.65" y="28.20" width="4.60" height="4.60" rx="0.5" fill="#fff" stroke="#000" stroke-width="1"/>
<text id="TL397_30" x="397.40" y="32.98" font-size="6.9" font-weight="bold" text-anchor="start" fill="#000" letter-spacing="0.22">BCG</text>
<line x1="381.30" y1="38.40" x2="394.60" y2="38.40" stroke="#333" stroke-width="1.0"/>
<circle cx="387.95" cy="38.40" r="2.20" fill="#000"/>
<text id="TL397_38" x="397.40" y="40.88" font-size="6.9" font-weight="bold" text-anchor="start" fill="#000" letter-spacing="0.22">BCG +IL-2</text>
<line x1="381.30" y1="46.50" x2="394.60" y2="46.50" stroke="#333" stroke-width="1.0"/>
<polygon points="387.95,43.64 390.48,48.44 385.42,48.44" fill="#000"/>
<text id="TL397_46" x="397.40" y="48.98" font-size="6.9" font-weight="bold" text-anchor="start" fill="#000" letter-spacing="0.22">BCG +Picostim+IL-2</text>
<line x1="29.30" y1="183.20" x2="43.80" y2="183.20" stroke="#333" stroke-width="1.0"/>
<rect x="34.35" y="181.00" width="4.40" height="4.40" rx="0.5" fill="#fff" stroke="#000" stroke-width="1"/>
<text id="TL47_183" x="47.30" y="185.67" font-size="6.85" font-weight="bold" text-anchor="start" fill="#000" >BCG</text>
<line x1="29.30" y1="192.20" x2="43.80" y2="192.20" stroke="#333" stroke-width="1.0"/>
<circle cx="36.55" cy="192.20" r="2.10" fill="#000"/>
<text id="TL47_192" x="47.30" y="194.67" font-size="6.85" font-weight="bold" text-anchor="start" fill="#000" >BCG+ IL-2</text>
<line x1="29.30" y1="202.00" x2="43.80" y2="202.00" stroke="#333" stroke-width="1.0"/>
<polygon points="36.55,199.27 38.96,203.85 34.13,203.85" fill="#000"/>
<text id="TL47_202" x="47.30" y="204.47" font-size="6.85" font-weight="bold" text-anchor="start" fill="#000" >BCG+ Picostim+IL-2</text>
</svg>
</body></html>
